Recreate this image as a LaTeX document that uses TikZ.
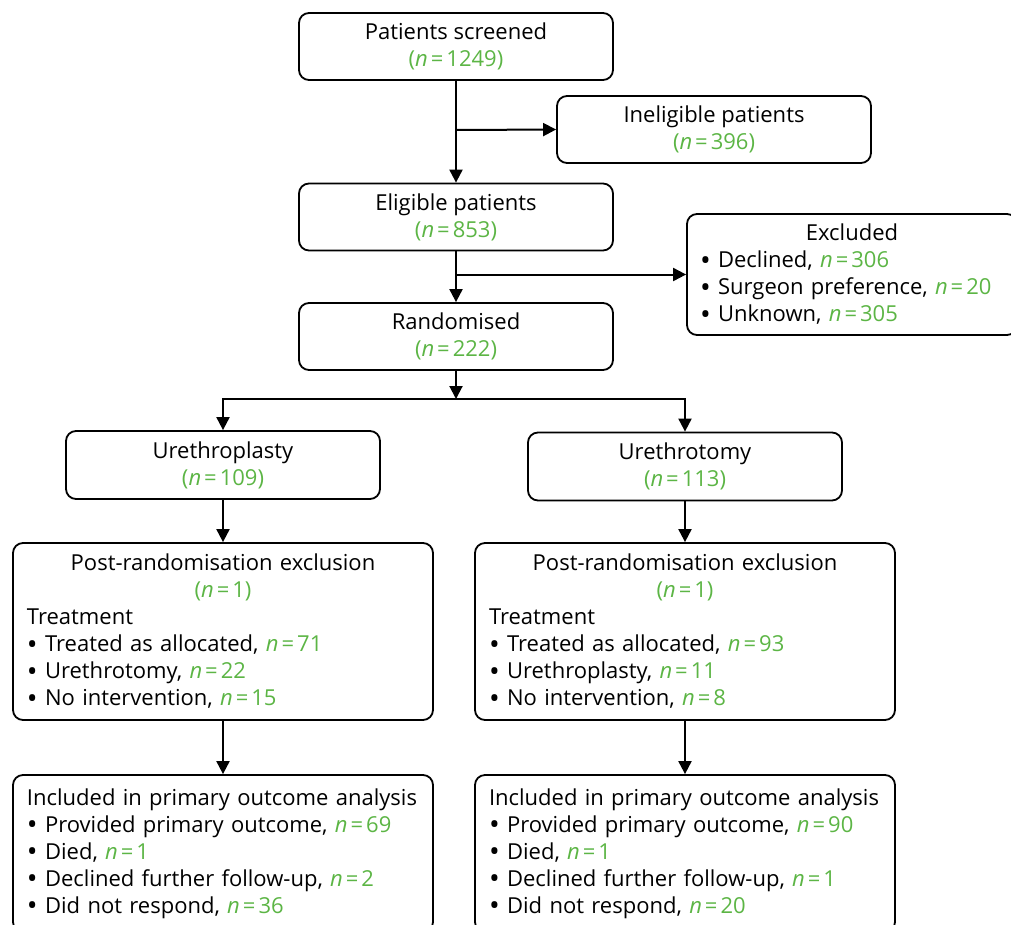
\documentclass[tikz,border=0pt]{standalone}
\usepackage{fontspec}
\setmainfont{Open Sans}
\usetikzlibrary{arrows.meta}
\definecolor{grn}{RGB}{92,181,69}
\newcommand{\nn}[1]{\textcolor{grn}{\textit{n}\kern3pt=\kern3pt#1}}
\newcommand{\pn}[1]{\textcolor{grn}{(\textit{n}\kern3pt=\kern3pt#1)}}
\newcommand{\bul}{\smash{\raisebox{-0.1em}{\scalebox{1.3}{•}}}}
\begin{document}
\begin{tikzpicture}[x=1pt,y=-1pt,
  box/.style={draw, line width=1.8pt, rounded corners=10pt, inner sep=0pt,
    font=\fontsize{22}{27}\selectfont, align=center},
  smallbox/.style={box, minimum width=314pt, minimum height=67pt},
  listbox/.style={box, minimum width=420pt, text width=392pt, align=left},
  arr/.style={line width=2pt, -{Triangle[length=13pt,width=13pt]}}]
\useasboundingbox (0,0) rectangle (1011,924);

\node[smallbox] (ps) at (456,46.5) {Patients screened\\\pn{1249}};
\node[smallbox] (inel) at (714,129.5) {Ineligible patients\\\pn{396}};
\node[smallbox] (el) at (456,217) {Eligible patients\\\pn{853}};
\node[box, minimum width=330pt, minimum height=121pt, text width=304pt, align=left] (exc) at (852,274.5)
  {{\centering Excluded\par}\bul{} Declined, \nn{306}\\\bul{} Surgeon preference, \nn{20}\\\bul{} Unknown, \nn{305}};
\node[smallbox] (rand) at (456,336.5) {Randomised\\\pn{222}};
\node[smallbox, minimum height=68pt] (upl) at (223,465) {Urethroplasty\\\pn{109}};
\node[smallbox, minimum height=68pt] (uto) at (685,466.5) {Urethrotomy\\\pn{113}};

\node[listbox, minimum height=177pt] (pl) at (223,631.5)
  {{\centering Post-randomisation exclusion\\\pn{1}\par}Treatment\\\bul{} Treated as allocated, \nn{71}\\\bul{} Urethrotomy, \nn{22}\\\bul{} No intervention, \nn{15}};
\node[listbox, minimum height=177pt] (pr) at (685,631.5)
  {{\centering Post-randomisation exclusion\\\pn{1}\par}Treatment\\\bul{} Treated as allocated, \nn{93}\\\bul{} Urethroplasty, \nn{11}\\\bul{} No intervention, \nn{8}};

\node[listbox, minimum height=157pt] (bl) at (223,853.5)
  {Included in primary outcome analysis\\\bul{} Provided primary outcome, \nn{69}\\\bul{} Died, \nn{1}\\\bul{} Declined further follow-up, \nn{2}\\\bul{} Did not respond, \nn{36}};
\node[listbox, minimum height=157pt] (br) at (685,853.5)
  {Included in primary outcome analysis\\\bul{} Provided primary outcome, \nn{90}\\\bul{} Died, \nn{1}\\\bul{} Declined further follow-up, \nn{1}\\\bul{} Did not respond, \nn{20}};

\coordinate (j1) at (456,130);
\coordinate (j2) at (456,274.5);
\coordinate (split) at (456,399);

\draw[arr] (ps) -- (el);
\draw[arr] (j1) -- (inel.west);
\draw[arr] (el) -- (rand);
\draw[arr] (j2) -- (exc.west);
\draw[arr] (rand) -- (split);
\draw[arr] (split) -| (upl.north);
\draw[arr] (split) -| (uto.north);
\draw[arr] (upl) -- (pl);
\draw[arr] (uto) -- (pr);
\draw[arr] (pl) -- (bl);
\draw[arr] (pr) -- (br);
\end{tikzpicture}
\end{document}
